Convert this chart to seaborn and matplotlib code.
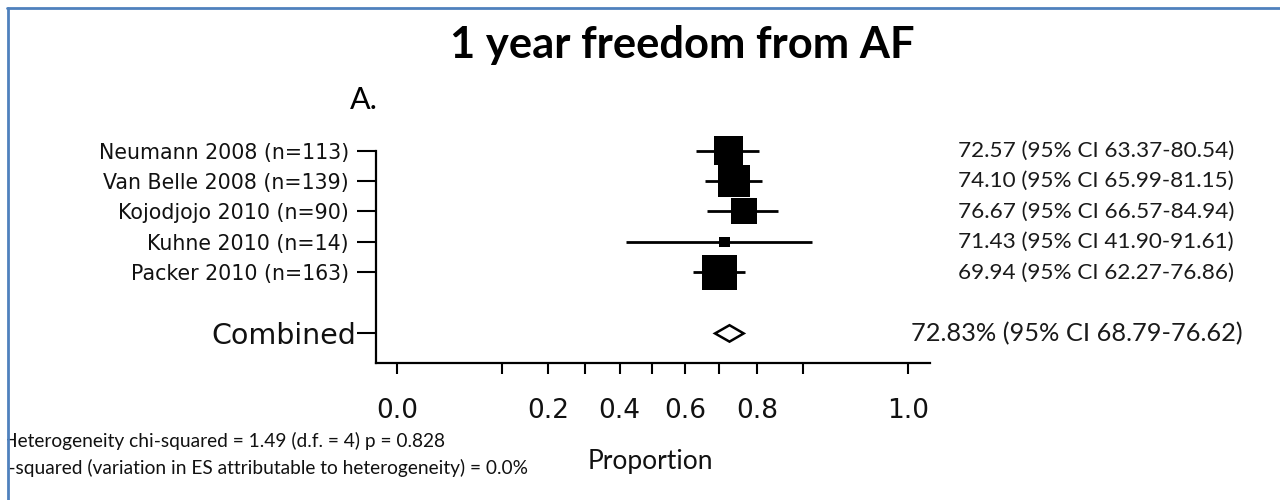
import numpy as np
import pandas as pd
import matplotlib
matplotlib.use("Agg")
import matplotlib.pyplot as plt
import matplotlib.transforms as mtransforms
from matplotlib.lines import Line2D
from matplotlib.patches import Rectangle
import seaborn as sns

# ---------------- data ----------------
studies = ["Neumann 2008 (n=113)", "Van Belle 2008 (n=139)", "Kojodjojo 2010 (n=90)",
           "Kuhne 2010 (n=14)", "Packer 2010 (n=163)"]
sample_n = [113, 139, 90, 14, 163]
estimate = [72.57, 74.10, 76.67, 71.43, 69.94]
ci_low = [63.37, 65.99, 66.57, 41.90, 62.27]
ci_high = [80.54, 81.15, 84.94, 91.61, 76.86]

combined_label = "Combined"
combined_est = 72.83
combined_low = 68.79
combined_high = 76.62

tick_props = [0.0, 0.1, 0.2, 0.3, 0.4, 0.5, 0.6, 0.7, 0.8, 0.9, 1.0]
tick_labels = ["0.0", "", "0.2", "", "0.4", "", "0.6", "", "0.8", "", "1.0"]

title = "1 year freedom from AF"
panel_label = "A."
x_label = "Proportion"
het_lines = ["Heterogeneity chi-squared = 1.49 (d.f. = 4) p = 0.828",
             "I-squared (variation in ES attributable to heterogeneity) = 0.0%"]

# ---------------- style ----------------
sns.set_style("ticks")
plt.rcParams["font.family"] = ["DejaVu Sans"]
W, H = 1280, 500
CAL = "Lato"


def asin_sqrt(pct):
    return np.arcsin(np.sqrt(np.asarray(pct, dtype=float) / 100.0))


rows = list(range(len(studies)))
comb_row = len(studies) + 1

df = pd.DataFrame({
    "study": studies, "n": sample_n, "row": rows,
    "t_est": asin_sqrt(estimate), "t_low": asin_sqrt(ci_low), "t_high": asin_sqrt(ci_high),
})

fig = plt.figure(figsize=(W / 100, H / 100), dpi=100)
fig.patch.set_facecolor("white")

ax_l, ax_r, ax_t, ax_b = 375.5, 930, 150.5, 363
ax = fig.add_axes([ax_l / W, 1 - ax_b / H, (ax_r - ax_l) / W, (ax_b - ax_t) / H])
ax.set_facecolor("white")

# confidence intervals
ax.hlines(df["row"], df["t_low"], df["t_high"], color="black", lw=2, clip_on=False, zorder=2)
# study squares (area proportional to n)
nmin, nmax = min(sample_n), max(sample_n)
k = 3.9
sns.scatterplot(data=df, x="t_est", y="row", size="n", sizes=(k * nmin, k * nmax),
                marker="s", color="black", linewidth=0, legend=False, ax=ax,
                clip_on=False, zorder=3)

# combined diamond
cl, ce, ch = asin_sqrt([combined_low, combined_est, combined_high])
hh = 0.27
ax.fill([cl, ce, ch, ce, cl], [comb_row, comb_row - hh, comb_row, comb_row + hh, comb_row],
        facecolor="white", edgecolor="black", lw=1.8, clip_on=False, zorder=3)

ax.set_xlim(-0.066, 1.639)
ax.set_ylim(6.97, 0)

ax.set_xticks(asin_sqrt(np.array(tick_props) * 100))
ax.set_xticklabels(tick_labels)
ax.set_yticks(rows + [comb_row])
ax.set_yticklabels(studies + [combined_label])
ax.set_xlabel("")
ax.set_ylabel("")

for s in ["top", "right"]:
    ax.spines[s].set_visible(False)
for s in ["left", "bottom"]:
    ax.spines[s].set_color("black")
    ax.spines[s].set_linewidth(1.6)

ax.tick_params(axis="y", left=True, length=14, width=1.5, pad=5, labelsize=14.8,
               color="black", labelcolor="#111111", direction="out")
ax.tick_params(axis="x", bottom=True, length=8, width=1.5, pad=17, labelsize=19,
               color="black", labelcolor="#111111", direction="out")
ylabs = ax.get_yticklabels()
ylabs[-1].set_fontsize(20.5)
ylabs[-1].set_transform(ylabs[-1].get_transform()
                        + mtransforms.ScaledTranslation(7 / 100, 0, fig.dpi_scale_trans))

# right-hand estimate texts
tr = mtransforms.blended_transform_factory(fig.transFigure, ax.transData)
for r, e, lo, hi in zip(rows, estimate, ci_low, ci_high):
    ax.text(1234 / W, r, f"{e:.2f} (95% CI {lo:.2f}-{hi:.2f})", transform=tr,
            ha="right", va="center", fontsize=16.2, family=CAL, color="#1a1a1a", clip_on=False)
ax.text(1243 / W, comb_row, f"{combined_est:.2f}% (95% CI {combined_low:.2f}-{combined_high:.2f})",
        transform=tr, ha="right", va="center", fontsize=18.3, family=CAL, color="#1a1a1a",
        clip_on=False)

# figure texts
fig.text(682 / W, 1 - 45 / H, title, ha="center", va="center", fontsize=31.3,
         fontweight="bold", family=CAL, color="black")
fig.text(350 / W, 1 - 100 / H, panel_label, ha="left", va="center", fontsize=22,
         family=CAL, color="black")
fig.text(650 / W, 1 - 462 / H, x_label, ha="center", va="center", fontsize=19,
         family=CAL, color="#111111")
fig.text(3 / W, 1 - 441 / H, het_lines[0], ha="left", va="center", fontsize=13.8,
         family=CAL, color="#111111", zorder=3)
fig.text(3 / W, 1 - 468 / H, het_lines[1], ha="left", va="center", fontsize=13.8,
         family=CAL, color="#111111", zorder=3)

# screenshot frame
fig.add_artist(Rectangle((0, 0), 7 / W, 1, transform=fig.transFigure,
                         facecolor="white", edgecolor="none", zorder=9))
fig.add_artist(Rectangle((0, 1 - 7 / H), 1, 7 / H, transform=fig.transFigure,
                         facecolor="white", edgecolor="none", zorder=9))
fig.add_artist(Line2D([8 / W, 8 / W], [0, 1 - 7.5 / H], transform=fig.transFigure,
                      color="#4F81BD", lw=2, zorder=10))
fig.add_artist(Line2D([7 / W, 1], [1 - 8 / H, 1 - 8 / H], transform=fig.transFigure,
                      color="#4F81BD", lw=2, zorder=10))

fig.savefig("out.png", dpi=100, facecolor="white")
